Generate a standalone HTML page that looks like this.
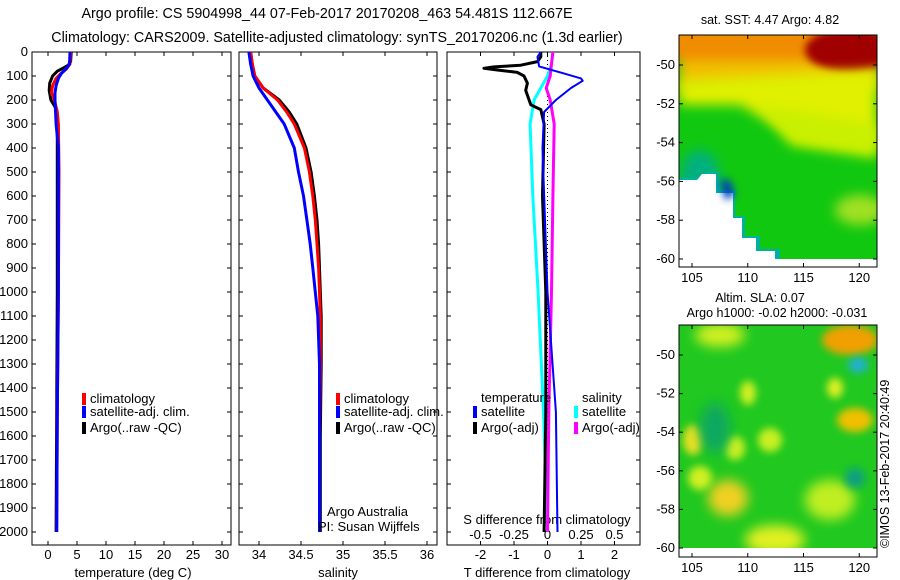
<!DOCTYPE html>
<html><head><meta charset="utf-8"><style>
html,body{margin:0;padding:0;background:#fff}
svg{display:block;font-family:"Liberation Sans",sans-serif}
</style></head><body>
<svg id="c" width="900" height="580" viewBox="0 0 900 580" xmlns="http://www.w3.org/2000/svg">
<defs>
<filter id="bl" x="-50%" y="-50%" width="200%" height="200%"><feGaussianBlur stdDeviation="6"/></filter>
<filter id="bl2" x="-50%" y="-50%" width="200%" height="200%"><feGaussianBlur stdDeviation="4"/></filter>
<clipPath id="cm1"><rect x="679" y="35" width="198" height="224"/></clipPath>
<clipPath id="cm2"><rect x="679" y="325" width="198" height="223"/></clipPath>
</defs>
<text x="327" y="18" font-size="14.3" text-anchor="middle">Argo profile: CS 5904998_44 07-Feb-2017 20170208_463 54.481S 112.667E</text>
<text x="337" y="42" font-size="14.3" text-anchor="middle">Climatology: CARS2009. Satellite-adjusted climatology: synTS_20170206.nc (1.3d earlier)</text>

<!-- top map -->
<g>
<g clip-path="url(#cm1)">
<rect x="679" y="35" width="198" height="224" fill="#10c810"/>
<rect x="679" y="35" width="198" height="55" fill="#f0c000" filter="url(#bl)"/>
<rect x="660" y="20" width="240" height="40" fill="#f08c00" filter="url(#bl)"/>
<ellipse cx="850" cy="50" rx="45" ry="22" fill="#a00000" filter="url(#bl2)"/>
<polygon points="679,80 877,70 877,150 800,140 740,105 679,105" fill="#e0f000" filter="url(#bl)"/>
<polygon points="760,105 877,125 877,158 790,145" fill="#c8f000" filter="url(#bl)"/>
<ellipse cx="860" cy="210" rx="25" ry="15" fill="#a0e020" filter="url(#bl)"/>
<ellipse cx="700" cy="180" rx="20" ry="30" fill="#00b080" filter="url(#bl)"/>
<polygon points="679,178 700,178 706,172 718,172 720,190 735,190 735,216 745,216 745,236 760,236 760,249 780,249 780,259 679,259" fill="#00b0a0"/>
<polygon points="679,180 697,180 702,174 716,174 716,193 733,193 733,218 742,218 742,238 756,238 756,251 775,251 775,259 679,259" fill="#fff"/>
<polygon points="720,180 730,180 735,195 725,200" fill="#0040c0" filter="url(#bl2)"/>
</g>
<rect x="679" y="35" width="198" height="232" fill="none" stroke="#000"/>
</g>
<text x="770" y="24" font-size="12.5" text-anchor="middle">sat. SST: 4.47 Argo: 4.82</text>
<text x="760" y="302" font-size="12.5" text-anchor="middle">Altim. SLA: 0.07</text>
<text x="777" y="317" font-size="12.5" text-anchor="middle">Argo h1000: -0.02 h2000: -0.031</text>

<!-- bottom map -->
<g>
<g clip-path="url(#cm2)">
<rect x="679" y="325" width="198" height="223" fill="#20c820"/>
<ellipse cx="850" cy="340" rx="28" ry="15" fill="#f0a000" filter="url(#bl2)"/>
<ellipse cx="858" cy="365" rx="10" ry="8" fill="#20b0d0" filter="url(#bl2)"/>
<ellipse cx="855" cy="420" rx="18" ry="12" fill="#f0c000" filter="url(#bl2)"/>
<ellipse cx="835" cy="388" rx="8" ry="10" fill="#e0f020" filter="url(#bl2)"/>
<ellipse cx="720" cy="335" rx="25" ry="12" fill="#d0f020" filter="url(#bl)"/>
<ellipse cx="693" cy="440" rx="10" ry="15" fill="#e8e020" filter="url(#bl2)"/>
<ellipse cx="728" cy="498" rx="20" ry="18" fill="#f0d020" filter="url(#bl)"/>
<ellipse cx="700" cy="478" rx="12" ry="12" fill="#d0f020" filter="url(#bl2)"/>
<ellipse cx="775" cy="540" rx="30" ry="15" fill="#e0f020" filter="url(#bl)"/>
<ellipse cx="830" cy="500" rx="25" ry="20" fill="#c0ee20" filter="url(#bl)"/>
<ellipse cx="748" cy="393" rx="8" ry="12" fill="#d0f020" filter="url(#bl2)"/>
<ellipse cx="770" cy="440" rx="12" ry="12" fill="#c8f020" filter="url(#bl2)"/>
<ellipse cx="735" cy="448" rx="10" ry="12" fill="#c8f020" filter="url(#bl2)"/>
<ellipse cx="715" cy="428" rx="15" ry="25" fill="#10a860" filter="url(#bl)"/>
<ellipse cx="855" cy="478" rx="10" ry="10" fill="#10a080" filter="url(#bl2)"/>
</g>
<rect x="679" y="325" width="198" height="232" fill="none" stroke="#000"/>
</g>
<text transform="translate(889,548) rotate(-90)" font-size="12.5">©IMOS 13-Feb-2017 20:40:49</text>
<g id="maxes" font-size="13"></g>

<g id="plots"></g>
</svg>
<script>
// ---------- data ----------
const depthTicks=[0,100,200,300,400,500,600,700,800,900,1000,1100,1200,1300,1400,1500,1600,1700,1800,1900,2000];
const tempTicks=[0,5,10,15,20,25,30];
const salTicks=[34,34.5,35,35.5,36];
const tdiffTicks=[-2,-1,0,1,2];
const sdiffTicks=[-0.5,-0.25,0,0.25,0.5];
const sdiffLabels=["-0.5","-0.25","0","0.25","0.5"];
const latTicks=[-50,-52,-54,-56,-58,-60];
const lonTicks=[105,110,115,120];

const tDepthArgo=[0,40,55,65,80,100,130,160,200,220,240,300,600,1000,1500,2000];
const tArgo=[4.0,3.9,3.5,2.8,1.6,0.8,0.3,0.2,0.5,1.0,1.5,1.6,1.6,1.6,1.5,1.4];
const tDepthClim=[0,50,70,90,110,140,170,200,250,300,500,1000,1500,2000];
const tClim=[3.9,3.8,3.2,2.2,1.4,0.8,0.6,1.1,1.6,1.8,1.9,1.8,1.6,1.5];
const tDepthSat=[0,50,70,90,110,140,170,200,300,400,1000,1500,2000];
const tSat=[3.8,3.7,3.1,2.3,1.8,1.4,1.2,1.2,1.4,1.8,1.8,1.6,1.5];

const sDepth=[0,50,100,150,200,250,300,400,500,600,700,800,900,1000,1100,1300,1600,2000];
const sArgo=[33.9,33.92,33.95,34.05,34.24,34.36,34.45,34.56,34.62,34.66,34.69,34.71,34.72,34.73,34.74,34.74,34.73,34.73];
const sClim=[33.9,33.92,33.95,34.05,34.22,34.33,34.42,34.54,34.6,34.64,34.67,34.69,34.71,34.72,34.73,34.73,34.72,34.72];
const sSat=[33.88,33.9,33.93,34.0,34.1,34.2,34.3,34.42,34.47,34.53,34.57,34.61,34.64,34.67,34.7,34.72,34.72,34.72];

const dDepthT=[0,20,40,55,62,68,75,85,100,130,160,200,220,240,300,600,1000,1500,2000];
const dTArgo=[-0.2,-0.2,-0.3,-0.8,-1.6,-1.9,-1.5,-0.9,-0.7,-0.6,-0.65,-0.55,-0.5,-0.2,-0.1,-0.15,-0.05,-0.05,-0.1];
const dDepthTS=[0,20,60,90,110,120,150,200,250,400,1000,1500,2000];
const dTSat=[-0.2,-0.3,-0.25,0.5,1.0,1.05,0.7,0.25,-0.1,-0.15,0.0,0.25,0.3];
const dDepthS=[0,50,100,150,200,300,600,1000,1500,2000];
const dSSat=[0.04,0.03,0.0,-0.05,-0.1,-0.13,-0.11,-0.07,-0.03,0.0];
const dSArgo=[0.04,0.03,0.02,-0.01,0.02,0.05,0.04,0.03,0.01,0.0];

// ---------- axes ----------
const Y=d=>52+d*0.24;
const xT=v=>48+v*5.8;
const xS=v=>259+(v-34)*84;
const xTD=v=>547.5+v*33.5;
const xSD=v=>547.5+v*134;
const latY1=v=>65+(-50-v)*19.4;
const latY2=v=>355+(-50-v)*19.3;
const lonX=v=>692+(v-105)*11.15;

const NS="http://www.w3.org/2000/svg";
const root=document.getElementById('plots');
function el(t,a,p){const e=document.createElementNS(NS,t);for(const k in a)e.setAttribute(k,a[k]);(p||root).appendChild(e);return e;}
function txt(x,y,s,anchor,p,size){const e=el('text',{x:x,y:y,'font-size':size||13,'text-anchor':anchor||'middle'},p);e.textContent=s;return e;}

const panels=[[32,231],[239,437],[447,640]];
const BOT=545;
panels.forEach((pp,i)=>{
  const r=el('rect',{x:pp[0],y:52,width:pp[1]-pp[0],height:BOT-52,fill:'none',stroke:'#000','stroke-width':1});
  
  
});
depthTicks.forEach(d=>{
  const t=txt(28,Y(d)+4,String(d),'end');
  
  
  panels.forEach(pp=>{
    el('line',{x1:pp[0],x2:pp[0]+4,y1:Y(d),y2:Y(d),stroke:'#000'});
    el('line',{x1:pp[1]-4,x2:pp[1],y1:Y(d),y2:Y(d),stroke:'#000'});
  });
});
function xticks(ticks,labels,fx,ty,nm,top){
  ticks.forEach((v,i)=>{
    const x=fx(v);
    el('line',{x1:x,x2:x,y1:BOT-4,y2:BOT,stroke:'#000'});
    if(top) el('line',{x1:x,x2:x,y1:52,y2:56,stroke:'#000'});
    const t=txt(x,ty,labels?labels[i]:String(v));
    
    
  });
}
xticks(tempTicks,null,xT,559,'temperature-tick-label',true);
xticks(salTicks,null,xS,559,'salinity-tick-label',true);
xticks(tdiffTicks,null,xTD,559,'t-diff-tick-label',true);
sdiffTicks.forEach((v,i)=>{
  const t=txt(xSD(v),539,sdiffLabels[i]);
  
  
});
let a;
a=txt(133,577,'temperature (deg C)');
a=txt(338,577,'salinity');
a=txt(547,577,'T difference from climatology');
a=txt(547,524,'S difference from climatology');

function line(ds,vs,fx,col,nm,w){
  const pts=ds.map((d,i)=>fx(vs[i]).toFixed(1)+','+Y(d).toFixed(1)).join(' ');
  const p=el('polyline',{points:pts,fill:'none',stroke:col,'stroke-width':w||3,'stroke-linejoin':'round'});
  
  
}
line(tDepthArgo,tArgo,xT,'#000','temp-argo-line',3);
line(tDepthClim,tClim,xT,'#f00','temp-climatology-line',3);
line(tDepthSat,tSat,xT,'#00f','temp-satellite-line',3);
line(sDepth,sArgo,xS,'#000','sal-argo-line',3);
line(sDepth,sClim,xS,'#f00','sal-climatology-line',3);
line(sDepth,sSat,xS,'#00f','sal-satellite-line',3);
const zl=el('line',{x1:xTD(0),x2:xTD(0),y1:Y(0),y2:Y(2000),stroke:'#000','stroke-dasharray':'1,3'});

line(dDepthS,dSSat,xSD,'#0ff','s-diff-satellite-line',3);
line(dDepthS,dSArgo,xSD,'#f0f','s-diff-argo-line',3);
line(dDepthT,dTArgo,xTD,'#000','t-diff-argo-line',3);
line(dDepthTS,dTSat,xTD,'#00f','t-diff-satellite-line',2);

function legend(x,y,col,label,nm){
  const g=el('g',{});
  
  
  el('rect',{x:x,y:y-10,width:4,height:12,fill:col},g);
  txt(x+8,y,label,'start',g);
}
[82,336].forEach(px=>{
  legend(px,403,'#f00','climatology','legend-climatology');
  legend(px,416,'#00f','satellite-adj. clim.','legend-satellite-adj');
  legend(px,432,'#000','Argo(..raw -QC)','legend-argo');
});
a=txt(481,402,'temperature','start');
a=txt(582,402,'salinity','start');
legend(473,416,'#00f','satellite','legend-t-satellite');
legend(473,432,'#000','Argo(-adj)','legend-t-argo');
legend(574,416,'#0ff','satellite','legend-s-satellite');
legend(574,432,'#f0f','Argo(-adj)','legend-s-argo');
a=txt(327,516,'Argo Australia','start');
a=txt(318,531,'PI: Susan Wijffels','start');

// map axes
const mg=document.getElementById('maxes');
[[latY1,35,267],[latY2,325,557]].forEach((m,mi)=>{
  latTicks.forEach(v=>{
    const y=m[0](v);
    el('line',{x1:679,x2:683,y1:y,y2:y,stroke:'#000'},mg);
    el('line',{x1:873,x2:877,y1:y,y2:y,stroke:'#000'},mg);
    const t=txt(675,y+4,String(v),'end',mg);
    
    
  });
  lonTicks.forEach(v=>{
    const x=lonX(v);
    el('line',{x1:x,x2:x,y1:m[1],y2:m[1]+4,stroke:'#000'},mg);
    el('line',{x1:x,x2:x,y1:m[2]-4,y2:m[2],stroke:'#000'},mg);
    const t=txt(x,m[2]+15,String(v),'middle',mg);
    
    
  });
});
</script>
</body></html>
